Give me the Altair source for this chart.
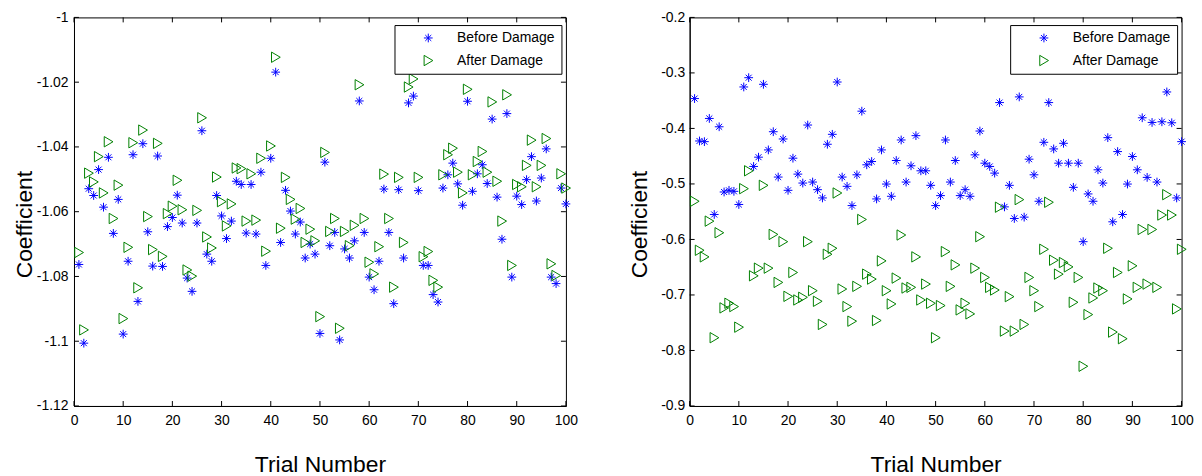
import altair as alt
import pandas as pd

# ---------------- data ----------------
trials = list(range(1, 101))
series_names = ["Before Damage", "After Damage"]

left_before = [
    -1.0763, -1.1006, -1.0529, -1.0550, -1.0470, -1.0586, -1.0432, -1.0667, -1.0562, -1.0978,
    -1.0753, -1.0424, -1.0877, -1.0390, -1.0662, -1.0768, -1.0428, -1.0769, -1.0646, -1.0618,
    -1.0549, -1.0635, -1.0805, -1.0846, -1.0635, -1.0350, -1.0731, -1.0753, -1.0550, -1.0613,
    -1.0683, -1.0629, -1.0506, -1.0516, -1.0666, -1.0516, -1.0669, -1.0478, -1.0766, -1.0435,
    -1.0169, -1.0695, -1.0534, -1.0598, -1.0669, -1.0632, -1.0743, -1.0700, -1.0731, -1.0976,
    -1.0447, -1.0705, -1.0664, -1.0996, -1.0715, -1.0743, -1.0690, -1.0258, -1.0664, -1.0802,
    -1.0841, -1.0753, -1.0530, -1.0664, -1.0884, -1.0532, -1.0743, -1.0264, -1.0243, -1.0535,
    -1.0766, -1.0766, -1.0856, -1.0879, -1.0527, -1.0486, -1.0450, -1.0514, -1.0580, -1.0259,
    -1.0537, -1.0483, -1.0455, -1.0513, -1.0314, -1.0555, -1.0685, -1.0297, -1.0802, -1.0552,
    -1.0578, -1.0501, -1.0430, -1.0567, -1.0496, -1.0406, -1.0802, -1.0822, -1.0527, -1.0576,
]
left_after = [
    -1.0726, -1.0965, -1.0481, -1.0508, -1.0430, -1.0542, -1.0384, -1.0621, -1.0518, -1.0930,
    -1.0710, -1.0387, -1.0835, -1.0348, -1.0615, -1.0717, -1.0389, -1.0738, -1.0606, -1.0583,
    -1.0503, -1.0594, -1.0780, -1.0799, -1.0596, -1.0310, -1.0678, -1.0712, -1.0493, -1.0569,
    -1.0644, -1.0576, -1.0465, -1.0467, -1.0629, -1.0483, -1.0626, -1.0435, -1.0722, -1.0397,
    -1.0123, -1.0651, -1.0494, -1.0562, -1.0623, -1.0590, -1.0695, -1.0654, -1.0690, -1.0924,
    -1.0417, -1.0661, -1.0621, -1.0960, -1.0661, -1.0705, -1.0642, -1.0208, -1.0621, -1.0756,
    -1.0792, -1.0708, -1.0484, -1.0621, -1.0833, -1.0494, -1.0695, -1.0215, -1.0190, -1.0494,
    -1.0739, -1.0723, -1.0812, -1.0833, -1.0486, -1.0424, -1.0404, -1.0478, -1.0542, -1.0222,
    -1.0486, -1.0445, -1.0414, -1.0478, -1.0261, -1.0506, -1.0629, -1.0239, -1.0766, -1.0516,
    -1.0523, -1.0457, -1.0379, -1.0523, -1.0457, -1.0374, -1.0761, -1.0797, -1.0483, -1.0527,
]
right_before = [
    -0.3462, -0.4226, -0.4238, -0.3820, -0.5550, -0.3970, -0.5145, -0.5115, -0.5133, -0.5370,
    -0.3253, -0.3086, -0.4685, -0.4518, -0.3205, -0.4387, -0.4059, -0.4876, -0.4190, -0.5115,
    -0.4536, -0.4823, -0.4984, -0.3939, -0.4966, -0.5103, -0.5252, -0.4285, -0.4106, -0.3164,
    -0.4876, -0.5043, -0.5390, -0.4835, -0.3689, -0.4655, -0.4596, -0.5270, -0.4387, -0.5002,
    -0.5222, -0.4578, -0.4208, -0.4966, -0.4673, -0.4130, -0.4763, -0.4763, -0.5025, -0.5390,
    -0.5210, -0.4208, -0.4966, -0.4578, -0.5210, -0.5103, -0.5222, -0.4476, -0.4047, -0.4626,
    -0.4685, -0.4805, -0.3534, -0.5413, -0.5025, -0.5622, -0.3432, -0.5598, -0.4554, -0.4835,
    -0.5312, -0.4250, -0.3534, -0.4369, -0.4626, -0.4268, -0.4626, -0.5061, -0.4626, -0.6040,
    -0.5180, -0.5312, -0.4745, -0.4984, -0.4166, -0.5682, -0.4417, -0.5550, -0.5002, -0.4506,
    -0.4745, -0.3808, -0.4882, -0.3892, -0.4966, -0.3880, -0.3343, -0.3898, -0.5252, -0.4238,
]
right_after = [
    -0.5312, -0.6195, -0.6314, -0.5670, -0.7770, -0.5879, -0.7233, -0.7150, -0.7209, -0.7580,
    -0.5085, -0.4763, -0.6655, -0.6517, -0.5025, -0.6517, -0.5909, -0.6774, -0.6040, -0.7025,
    -0.6595, -0.7090, -0.7042, -0.6040, -0.6923, -0.7114, -0.7531, -0.6267, -0.6159, -0.5163,
    -0.6893, -0.7209, -0.7472, -0.6845, -0.5640, -0.6625, -0.6714, -0.7460, -0.6386, -0.6923,
    -0.7162, -0.6696, -0.5920, -0.6875, -0.6863, -0.6314, -0.7090, -0.6804, -0.7150, -0.7770,
    -0.7191, -0.6219, -0.6845, -0.6458, -0.7269, -0.7150, -0.7341, -0.6517, -0.5950, -0.6684,
    -0.6863, -0.6911, -0.5419, -0.7651, -0.7030, -0.7651, -0.5282, -0.7531, -0.6684, -0.6923,
    -0.7209, -0.6177, -0.5330, -0.6374, -0.6625, -0.6416, -0.6494, -0.7132, -0.6684, -0.8284,
    -0.7353, -0.7054, -0.6875, -0.6923, -0.6159, -0.7669, -0.6595, -0.7788, -0.7072, -0.6475,
    -0.6863, -0.5820, -0.6804, -0.5820, -0.6863, -0.5560, -0.5193, -0.5560, -0.7251, -0.6177,
]

x_ticks = [0, 10, 20, 30, 40, 50, 60, 70, 80, 90, 100]
left_y_ticks = [-1.12, -1.10, -1.08, -1.06, -1.04, -1.02, -1.00]
right_y_ticks = [-0.9, -0.8, -0.7, -0.6, -0.5, -0.4, -0.3, -0.2]
left_y_domain = [-1.12, -1.00]
right_y_domain = [-0.9, -0.2]

# ---------------- styling ----------------
W, H = 495, 391
TICK = 5
STAR = "M-1.1,0L1.1,0M0,-1.1L0,1.1M-0.75,-0.75L0.75,0.75M-0.75,0.75L0.75,-0.75"
TRI = "M-1.05,-1.3L1.15,0L-1.05,1.3Z"
COLORS = ["#0000ff", "#008000"]
TITLE_FONT = "Liberation Sans Narrow, Arial Narrow, Liberation Sans"
LABEL_FONT = "Liberation Sans"


def legend():
    return alt.Legend(
        title=None, orient="none", legendX=322.5, legendY=7.7,
        padding=6, rowPadding=7.7, symbolOffset=21, labelOffset=22,
        symbolSize=64, symbolStrokeWidth=1,
        labelFont=LABEL_FONT, labelFontSize=14, labelColor="black",
        strokeColor="black", fillColor="white", cornerRadius=0,
    )


def panel(before, after, y_domain, y_ticks, fmt, label_pad):
    df = pd.DataFrame({
        "trial": trials + trials,
        "value": before + after,
        "series": [series_names[0]] * len(before) + [series_names[1]] * len(after),
    })
    xs = alt.Scale(domain=[0, 100], nice=False, zero=False)
    ys = alt.Scale(domain=y_domain, nice=False, zero=False)
    lab = "replace(format(datum.value, '" + fmt + "'), '\u2212', '-')"
    x_axis = alt.Axis(values=x_ticks, title="Trial Number", format="d")
    y_axis = alt.Axis(values=y_ticks, title="Coefficient", labelExpr=lab, labelPadding=label_pad)

    pts = alt.Chart(df).mark_point(filled=False, strokeWidth=1, size=64, opacity=1).encode(
        x=alt.X("trial:Q", scale=xs, axis=x_axis),
        y=alt.Y("value:Q", scale=ys, axis=y_axis),
        color=alt.Color("series:N", scale=alt.Scale(domain=series_names, range=COLORS),
                        legend=legend()),
        shape=alt.Shape("series:N", scale=alt.Scale(domain=series_names, range=[STAR, TRI]),
                        legend=legend()),
    )

    xt = pd.DataFrame({"trial": x_ticks})
    yt = pd.DataFrame({"value": y_ticks})
    top = alt.Chart(xt).mark_rule(color="black", strokeWidth=1).encode(
        x=alt.X("trial:Q", scale=xs, axis=x_axis), y=alt.value(0), y2=alt.value(TICK))
    bottom = alt.Chart(xt).mark_rule(color="black", strokeWidth=1).encode(
        x=alt.X("trial:Q", scale=xs, axis=x_axis), y=alt.value(H - TICK), y2=alt.value(H))
    lft = alt.Chart(yt).mark_rule(color="black", strokeWidth=1).encode(
        y=alt.Y("value:Q", scale=ys, axis=y_axis), x=alt.value(0), x2=alt.value(TICK))
    rgt = alt.Chart(yt).mark_rule(color="black", strokeWidth=1).encode(
        y=alt.Y("value:Q", scale=ys, axis=y_axis), x=alt.value(W - TICK), x2=alt.value(W))

    return alt.layer(pts, top, bottom, lft, rgt).properties(width=W, height=H)


left = panel(left_before, left_after, left_y_domain, left_y_ticks, ".2~f", 6)
right = panel(right_before, right_after, right_y_domain, right_y_ticks, ".1~f", 5)

chart = (
    alt.hconcat(left, right, spacing=49.5)
    .resolve_scale(color="independent", shape="independent")
    .resolve_legend(color="independent", shape="independent")
    .properties(padding={"left": 4.4, "top": 0, "right": 0, "bottom": 0}, background="white")
    .configure_view(stroke="black", strokeWidth=1)
    .configure_axis(
        domainColor="black", domainWidth=1, ticks=False, tickSize=0, grid=False,
        labelFont=LABEL_FONT, labelFontSize=14, labelColor="black",
        titleFont=TITLE_FONT, titleFontSize=23, titleFontWeight="normal", titleColor="black",
    )
    .configure_axisX(labelPadding=8, labelFlush=False, labelOverlap=False,
                     titleBaseline="alphabetic", titleY=66)
    .configure_axisY(labelOverlap=False, titleX=-43, titleY=208, titleAlign="center",
                     titleBaseline="alphabetic")
)

chart.save("out.html", embed_options={"renderer": "svg", "actions": False})
